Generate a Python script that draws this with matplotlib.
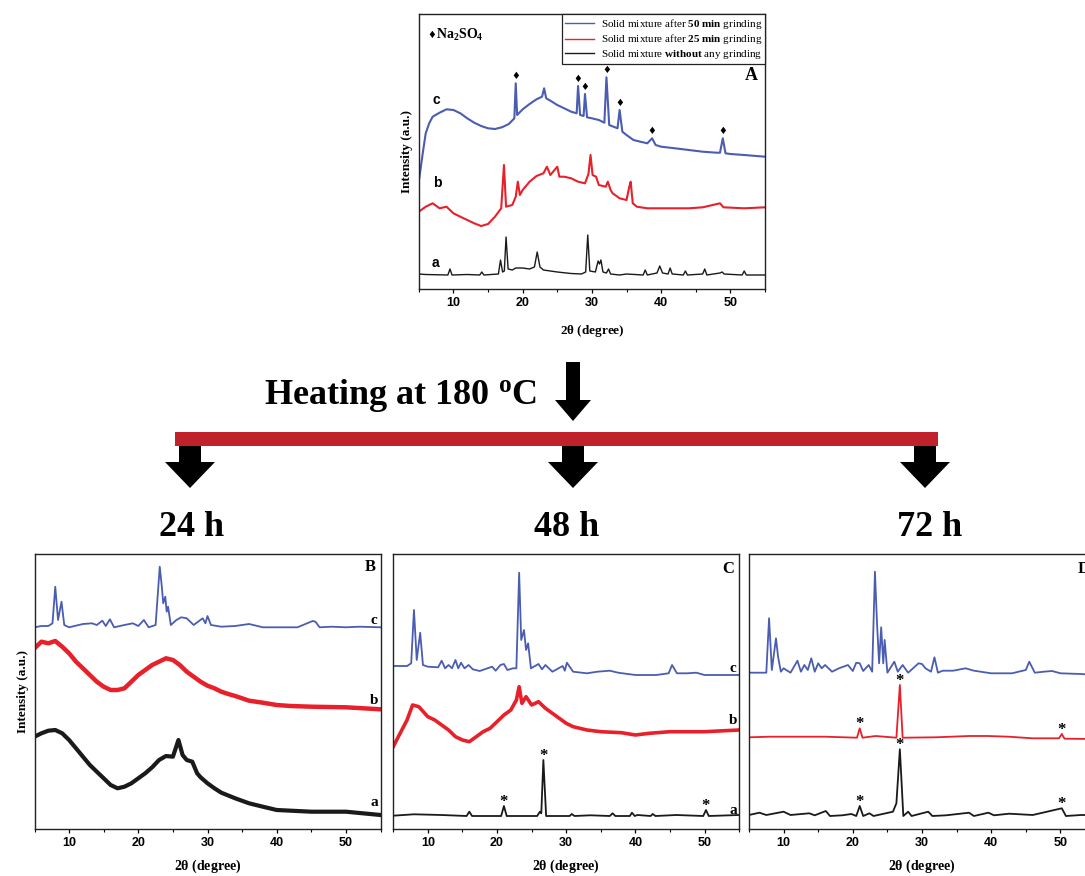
import numpy as np
import matplotlib
matplotlib.use("Agg")
import matplotlib.pyplot as plt
from matplotlib.patches import Polygon, Rectangle

plt.rcParams['mathtext.fontset'] = 'custom'
plt.rcParams['mathtext.rm'] = 'Liberation Serif'
plt.rcParams['mathtext.bf'] = 'Liberation Serif:bold'
plt.rcParams['mathtext.it'] = 'Liberation Serif:italic'

SERIF = 'Liberation Serif'
SANS = 'Liberation Sans'

# ---------------- data ----------------
xticks = [10, 20, 30, 40, 50]
xtick_labels = ['10', '20', '30', '40', '50']

# Panel A (before heating)
A_a_x = [5, 6, 9.2, 9.5, 9.8, 12, 13.8, 14.1, 14.4, 16.5, 16.8, 17.1, 17.35, 17.6, 17.9, 18.5, 19, 20, 21,
         21.7, 22.1, 22.5, 23, 25, 27, 28.5, 29.1, 29.4, 29.7, 30.5, 30.9, 31.1, 31.3, 31.6, 32.1, 32.4, 32.7,
         34, 35, 37.4, 37.7, 38, 39.4, 39.8, 40.2, 41, 41.3, 41.6, 43.2, 43.5, 43.8, 46, 46.3, 46.6, 48.5,
         48.8, 49.1, 51.7, 52, 52.3, 55]
A_a_y = [15, 14.5, 14, 20, 14, 14.5, 14, 17, 14, 15, 29, 17, 18, 52, 20, 19, 21, 21, 20,
         22, 37, 22, 19, 17, 15.5, 15, 17, 54, 18, 17, 28, 25, 29, 17, 16, 20, 15,
         14, 15, 14, 19, 14, 16, 23, 16, 15, 21, 15, 14, 18, 14, 15, 20, 14, 16,
         17, 15, 14, 18, 14, 14]

A_b_x = [5, 6, 7, 8, 9, 10, 11, 12, 13, 14, 15, 16, 16.9, 17.3, 17.6, 18.5, 19.0, 19.3, 19.6, 20, 21, 22,
         23, 23.5, 24, 25, 25.3, 26, 27, 28, 29, 29.5, 29.8, 30.1, 30.6, 31, 32, 32.3, 32.7, 33, 34, 35,
         35.4, 35.6, 35.9, 36.5, 38, 40, 42, 44, 46, 48.5, 49, 52, 55]
A_b_y = [77.3, 82.3, 85.7, 80.7, 82.3, 75.7, 72.3, 69, 65.7, 63, 65, 72.3, 80.7, 124, 82.3, 84, 92.3, 107.3,
         94, 99, 107.3, 113, 115.7, 122.3, 114, 122.3, 112.3, 112.3, 110.7, 107.3, 105.7, 115, 134, 114,
         112.3, 104, 102.3, 107.3, 99, 95.7, 90.7, 89, 102.3, 107.3, 85.7, 82.3, 80.7, 80.7, 80.7, 80.7,
         81.7, 85.7, 81.7, 80.7, 81.7]

A_c_x = [5.0, 5.3, 5.6, 6.0, 6.5, 7.0, 8.0, 9.0, 10.0, 11, 12, 13, 14, 15, 16, 17, 18, 18.8, 19.0, 19.2,
         20, 21, 22, 22.8, 23.1, 23.4, 24, 25, 26, 27, 27.8, 28.0, 28.3, 28.8, 29.0, 29.3, 30, 31, 31.8,
         32.1, 32.5, 33.7, 34.0, 34.4, 35, 36, 37, 38, 38.7, 39.2, 40, 42, 44, 46, 48, 48.5, 48.9, 49.3,
         50, 52, 55]
A_c_y = [107.3, 122.3, 137.3, 155.7, 165.7, 172.3, 176.3, 179.7, 179, 175.7, 170.7, 166.3, 163, 160.7,
         160, 161.7, 165, 170.7, 205.7, 174, 179.7, 185, 189.7, 192.3, 200.7, 190.7, 188.3, 184, 180.7,
         177.3, 175.7, 203, 174, 173, 195, 171.7, 170.7, 169, 166.3, 211.7, 164, 160.7, 179, 157.3, 154,
         149, 147.3, 145.7, 150.7, 144, 142.3, 140.7, 139, 137.3, 136.3, 136.3, 150.7, 135.7, 135, 134,
         132.3]
na2so4_peaks = [19.0, 28.0, 29.0, 32.1, 34.0, 38.7, 48.9]

# Panel B (24 h)
B_c_x = [5, 6, 7, 7.6, 8.0, 8.4, 8.9, 9.3, 10, 12, 13.3, 14.0, 14.8, 15.3, 15.9, 16.5, 18, 19.2, 20, 20.8,
         21.5, 22.5, 23.1, 23.4, 23.6, 23.9, 24.1, 24.3, 24.7, 25.5, 26.2, 27, 28, 29.3, 29.7, 30.0, 30.5,
         32, 34, 36, 38, 40, 43, 45.2, 45.6, 46.2, 48, 50, 52, 55]
B_c_y = [201.7, 203, 203, 205.7, 242.3, 209, 227.3, 204, 201.7, 205, 205.7, 204, 208.3, 203, 209.7, 201.7,
         204, 205.7, 203, 209, 201.7, 204, 262.3, 242.3, 225.7, 232.3, 217.3, 222.3, 204, 209, 211.7,
         210.7, 204, 210.7, 205.7, 213, 204, 202.3, 203, 205, 201.7, 201.7, 201.7, 208, 207.3, 201.7,
         202.3, 201.7, 202.3, 201.7]
B_b_x = [5, 6, 7, 8, 9, 10, 11, 12, 13, 14, 15, 16, 17, 18, 19, 20, 21, 22, 23, 24, 25, 26, 27, 28, 29,
         30, 31, 32, 33, 34, 35, 36, 38, 40, 42, 45, 50, 55]
B_b_y = [180.7, 187.3, 185.7, 188, 182.3, 175.7, 167.3, 160.7, 154, 147.3, 142.3, 139, 139, 140.7, 147.3,
         154, 159, 164, 167.3, 170.7, 169, 164, 157.3, 152.3, 147.3, 143.3, 140.7, 137.3, 135, 133, 130.7,
         128.3, 126.3, 124, 123, 122.3, 121.7, 119.7]
B_a_x = [5, 6, 7, 8, 9, 10, 11, 12, 13, 14, 15, 16, 17, 18, 19, 20, 21, 22, 23, 24, 25, 25.8, 26.4, 27,
         27.8, 28.5, 29, 30, 31, 32, 34, 36, 38, 40, 45, 50, 55]
B_a_y = [92.3, 95.7, 98.3, 99, 95.7, 89, 80.7, 72.3, 64, 57.3, 50.7, 44, 40.7, 42.3, 45.7, 50.7, 55.7,
         61.7, 69, 73, 72.3, 89, 74, 69, 67.3, 55.7, 51.7, 45.7, 40.7, 36.3, 30.7, 25.7, 22.3, 19, 17.3,
         17.3, 14]

# Panel C (48 h)
C_c_x = [5, 7, 7.6, 8.0, 8.4, 8.9, 9.3, 10, 11.5, 12, 12.5, 13, 13.5, 14, 14.4, 14.8, 15.3, 15.9, 16.5,
         17.5, 19.3, 19.8, 20.5, 21, 21.5, 22.3, 22.8, 23.2, 23.5, 23.9, 24.2, 24.5, 24.9, 26, 26.5, 27, 28,
         29.5, 29.8, 30.1, 31, 33, 34.5, 36.3, 37.5, 40, 43, 44.8, 45.3, 46, 47.5, 48.8, 50, 55]
C_c_y = [163, 163, 165.7, 219, 169, 196.3, 164, 162.3, 161.7, 168.3, 160.7, 164, 160.7, 169, 160.7, 166.3,
         160.7, 164, 159.7, 158, 162.3, 158.3, 164, 165, 159, 160.7, 160.7, 256.3, 189, 199, 179, 185.7,
         160.7, 165, 159.7, 164, 157.3, 163, 158.3, 166.3, 157.3, 155.7, 157.3, 158.3, 156.3, 154, 154,
         155.7, 164, 155.7, 155.7, 156.3, 154, 154]
C_b_x = [5, 6, 7, 7.8, 8.7, 10, 11, 12, 13, 14, 15, 16, 17, 18, 19, 20, 21, 22, 22.8, 23.2, 23.6, 24.2, 25,
         26, 27, 28, 29, 30, 31, 33, 35, 38, 40, 42, 45, 48, 50, 55]
C_b_y = [82.3, 95.7, 109, 124, 122.3, 112.3, 109, 104, 99, 92.3, 89, 87.3, 92.3, 97.3, 100.7, 107.3, 114,
         119, 129, 142.3, 125.7, 132.3, 124, 127.3, 120.7, 115.7, 110.7, 105.7, 102.3, 99, 97.3, 96.3, 94,
         95.7, 97.3, 97.3, 97.3, 99]
C_a_x = [5, 8, 12, 15.6, 16.0, 16.4, 18.5, 20.6, 21.0, 21.4, 25.8, 26.2, 26.4, 26.7, 27.1, 30.5, 30.8,
         31.2, 33.5, 36.3, 36.7, 37.1, 39.2, 39.5, 39.9, 40.3, 42.2, 42.5, 42.9, 45.9, 49.8, 50.2, 50.6, 55]
C_a_y = [13.3, 14.7, 14, 13, 17.3, 13, 13, 13, 23, 13, 13, 17.3, 15.7, 69, 13, 13, 15, 13, 13.7, 13, 15.7,
         13, 13, 16.3, 13, 14, 13, 15, 13, 14, 13, 19, 13, 14]
C_star_peaks = [21.0, 26.7, 50.2]

# Panel D (72 h)
D_c_x = [5, 7.5, 7.9, 8.3, 8.9, 9.2, 9.6, 10, 11, 12, 12.5, 13, 13.5, 14, 14.5, 15, 15.5, 16, 17, 18, 19.3,
         20, 20.5, 21, 21.5, 22.3, 22.8, 23.2, 23.5, 23.8, 24.1, 24.4, 24.6, 25, 26, 26.5, 27.2, 28, 29.5,
         30, 30.5, 31.3, 31.8, 32.3, 33, 34.5, 36.3, 37.5, 40, 43, 45, 45.5, 46.3, 47.6, 48.8, 50, 53, 55]
D_c_y = [156.3, 156.3, 210.7, 159, 190.7, 172.3, 157.3, 160.7, 156.3, 168.3, 157.3, 164, 159, 170.7, 157.3,
         165.7, 160.7, 164, 157.3, 160.7, 164, 158, 166.3, 165.7, 158, 164, 157.3, 257.3, 205.7, 165.7,
         201.7, 165.7, 189, 156.3, 167.3, 157.3, 164, 156.3, 165.7, 165, 160.7, 157.3, 171.7, 156.3, 158.3,
         158.3, 160.7, 158.3, 155.7, 155.7, 159, 167.3, 156.3, 157.3, 158, 155.7, 155, 154]
D_b_x = [5, 8, 16, 20.6, 21.0, 21.4, 23.3, 26.3, 26.8, 27.2, 32, 36.8, 39.5, 42.5, 46, 49.8, 50.2, 50.6, 55]
D_b_y = [91.7, 92.3, 92.3, 91.3, 100.7, 91.3, 93, 91.3, 144, 91.3, 91.7, 93, 93, 92.3, 90.7, 90.7, 95,
         90.3, 90]
D_a_x = [5, 6.5, 7.5, 10, 11, 13.7, 14.5, 16.1, 16.7, 18.5, 19.8, 20.5, 21.0, 21.5, 22.4, 23, 25.8, 26.3,
         26.8, 27.3, 28.0, 28.5, 30.9, 31.5, 33.5, 36.8, 37.5, 39.6, 40.4, 42.6, 46, 50.2, 50.8, 53, 55]
D_a_y = [14, 16.3, 14, 17.3, 14, 15.7, 13.7, 18, 13, 13.7, 15, 13, 23, 13, 15.7, 13, 17.3, 25.7, 79.7, 13,
         17.3, 13, 17.3, 13, 13.7, 16.3, 13, 16.3, 13.7, 15.3, 14, 20.7, 13, 14, 14]
D_star_peaks = [21.0, 26.8, 50.2]

BLUE = '#4a5db0'
RED = '#e8202a'
BLACK = '#1a1a1a'
BAR_RED = '#c0222b'

W, H = 1085, 876
fig = plt.figure(figsize=(W / 100, H / 100), dpi=100)
fig.patch.set_facecolor('white')


def ax_px(left, top, width, height):
    return fig.add_axes([left / W, 1 - (top + height) / H, width / W, height / H])


def style(ax, xlabel_pad=5):
    ax.set_xlim(5, 55)
    ax.set_ylim(0, 275)
    ax.set_yticks([])
    ax.set_xticks(xticks)
    ax.set_xticklabels(xtick_labels, fontfamily=SANS, fontweight='bold', fontsize=9)
    ax.set_xticks([5, 15, 25, 35, 45, 55], minor=True)
    ax.tick_params(axis='x', which='major', direction='out', length=3, width=0.9, pad=3)
    ax.tick_params(axis='x', which='minor', direction='out', length=2, width=0.8)
    for s in ax.spines.values():
        s.set_linewidth(1.0)
        s.set_color('#222222')
    ax.set_xlabel(r'2$\mathbf{\theta}$ (degree)', fontfamily=SERIF, fontweight='bold', fontsize=10,
                  labelpad=xlabel_pad)


def star_marks(ax, peaks, xs, ys):
    for px_, py_ in zip(peaks, np.interp(peaks, xs, ys)):
        ax.annotate('*', xy=(px_, py_), xytext=(0, -3), textcoords='offset points', ha='center',
                    va='bottom', fontsize=12, fontweight='bold', fontfamily=SERIF)


# ---------------- Panel A ----------------
axA = ax_px(418.8, 14, 346.2, 275)
lc, = axA.plot(A_c_x, A_c_y, color=BLUE, lw=1.5)
lb, = axA.plot(A_b_x, A_b_y, color=RED, lw=1.5)
la, = axA.plot(A_a_x, A_a_y, color=BLACK, lw=1.0)
style(axA, xlabel_pad=10)
axA.xaxis.label.set_fontsize(9.5)
axA.set_ylabel('Intensity (a.u.)', fontfamily=SERIF, fontweight='bold', fontsize=9.5, labelpad=4)
for px_, py_ in zip(na2so4_peaks, np.interp(na2so4_peaks, A_c_x, A_c_y)):
    axA.annotate(u'\u2666', xy=(px_, py_), xytext=(0, 1.5), textcoords='offset points',
                 ha='center', va='bottom', fontsize=7, fontfamily='DejaVu Sans', color='black')
axA.text(0.024, 0.925, u'\u2666', transform=axA.transAxes, fontsize=7, fontfamily='DejaVu Sans',
         va='center', ha='left')
axA.text(0.05, 0.925, r'$\mathbf{Na_2SO_4}$', transform=axA.transAxes, fontsize=10,
         va='center', ha='left')
axA.text(0.98, 0.775, 'A', transform=axA.transAxes, fontfamily=SERIF, fontweight='bold',
         fontsize=13, ha='right', va='center')
axA.text(7.6, 189, 'c', fontfamily=SANS, fontweight='bold', fontsize=10, ha='center', va='center')
axA.text(7.6, 106, 'b', fontfamily=SANS, fontweight='bold', fontsize=10, ha='center', va='center')
axA.text(7.4, 26, 'a', fontfamily=SANS, fontweight='bold', fontsize=10, ha='center', va='center')
leg = axA.legend([lc, lb, la],
                 [r'Solid mixture after $\mathbf{50\ min}$ grinding',
                  r'Solid mixture after $\mathbf{25\ min}$ grinding',
                  r'Solid mixture $\mathbf{without}$ any grinding'],
                 loc='upper right', borderaxespad=0, prop={'family': SERIF, 'size': 8},
                 frameon=True, fancybox=False, framealpha=1, edgecolor='#222222',
                 borderpad=0.25, labelspacing=0.15, handlelength=2.6, handletextpad=0.6)
leg.get_frame().set_linewidth(0.9)
for h in leg.legend_handles:
    h.set_linewidth(1.0)

# ---------------- Panel B ----------------
axB = ax_px(34.5, 554, 346, 275)
axB.plot(B_c_x, B_c_y, color=BLUE, lw=1.3)
axB.plot(B_b_x, B_b_y, color=RED, lw=3.2)
axB.plot(B_a_x, B_a_y, color=BLACK, lw=3.0)
style(axB, xlabel_pad=6)
axB.set_ylabel('Intensity (a.u.)', fontfamily=SERIF, fontweight='bold', fontsize=9.5, labelpad=4)
axB.text(0.985, 0.952, 'B', transform=axB.transAxes, fontfamily=SERIF, fontweight='bold',
         fontsize=12, ha='right', va='center')
for lbl, yy in zip(['c', 'b', 'a'], [209, 129, 27]):
    axB.text(54.1, yy, lbl, fontfamily=SERIF, fontweight='bold', fontsize=11, ha='center', va='center')

# ---------------- Panel C ----------------
axC = ax_px(393.2, 554, 346, 275)
axC.plot(C_c_x, C_c_y, color=BLUE, lw=1.3)
axC.plot(C_b_x, C_b_y, color=RED, lw=2.6)
axC.plot(C_a_x, C_a_y, color=BLACK, lw=1.3)
style(axC, xlabel_pad=6)
axC.text(0.985, 0.945, 'C', transform=axC.transAxes, fontfamily=SERIF, fontweight='bold',
         fontsize=12, ha='right', va='center')
for lbl, yy in zip(['c', 'b', 'a'], [161, 109, 19]):
    axC.text(54.1, yy, lbl, fontfamily=SERIF, fontweight='bold', fontsize=11, ha='center', va='center')
star_marks(axC, C_star_peaks, C_a_x, C_a_y)

# ---------------- Panel D ----------------
axD = ax_px(749, 554, 346, 275)
axD.plot(D_c_x, D_c_y, color=BLUE, lw=1.3)
axD.plot(D_b_x, D_b_y, color=RED, lw=1.3)
axD.plot(D_a_x, D_a_y, color=BLACK, lw=1.3)
style(axD, xlabel_pad=6)
axD.text(0.985, 0.945, 'D', transform=axD.transAxes, fontfamily=SERIF, fontweight='bold',
         fontsize=12, ha='right', va='center')
for lbl, yy in zip(['c', 'b', 'a'], [161, 95, 19]):
    axD.text(54.1, yy, lbl, fontfamily=SERIF, fontweight='bold', fontsize=11, ha='center', va='center')
star_marks(axD, D_star_peaks, D_b_x, D_b_y)
star_marks(axD, D_star_peaks, D_a_x, D_a_y)


# ---------------- scheme: heating bar and arrows ----------------
def fpt(x, y):
    return (x / W, 1 - y / H)


def down_arrow(cx, y0, y1, y2, sw, hw):
    verts = [fpt(cx - sw / 2, y0), fpt(cx + sw / 2, y0), fpt(cx + sw / 2, y1), fpt(cx + hw / 2, y1),
             fpt(cx, y2), fpt(cx - hw / 2, y1), fpt(cx - sw / 2, y1)]
    fig.add_artist(Polygon(verts, closed=True, transform=fig.transFigure, facecolor='black',
                           edgecolor='black', lw=0))


fig.add_artist(Rectangle(fpt(175, 446), (938 - 175) / W, 14 / H, transform=fig.transFigure,
                         facecolor=BAR_RED, edgecolor='none'))
down_arrow(573, 362, 400, 421, 14, 36)
for cx in [190, 573, 925]:
    down_arrow(cx, 446, 462, 488, 22, 50)

fig.text(400 / W, 1 - 395 / H, r'Heating at 180 $^{\mathbf{o}}$C', fontfamily=SERIF, fontweight='bold',
         fontsize=26, ha='center', va='center')
for cx, lbl in zip([192, 567, 930], ['24 h', '48 h', '72 h']):
    fig.text(cx / W, 1 - 527 / H, lbl, fontfamily=SERIF, fontweight='bold', fontsize=26,
             ha='center', va='center')

fig.savefig('out.png', dpi=100)
